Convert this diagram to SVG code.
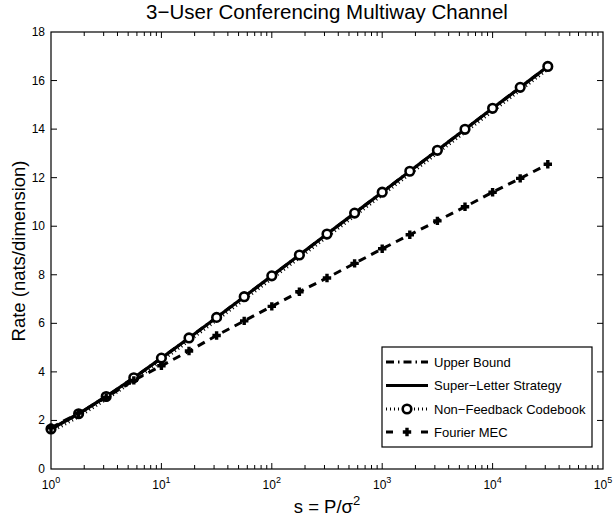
<svg xmlns="http://www.w3.org/2000/svg" width="616" height="520" viewBox="0 0 616 520">
  <style>
    text { font-family: "Liberation Sans", Arial, Helvetica, sans-serif; fill: #000; }
    .tick { font-size: 12px; }
    .sup { font-size: 9px; }
    .label { font-size: 18.5px; }
    .title { font-size: 20.5px; }
    .leg { font-size: 13px; }
    .axis { fill: none; stroke: #000; stroke-width: 1.2; }
    .tk { fill: none; stroke: #000; stroke-width: 1; }
    .ub { fill: none; stroke: #000; stroke-width: 3; stroke-dasharray: 8 4 1.5 4; }
    .sl { fill: none; stroke: #000; stroke-width: 3.2; stroke-linejoin: round; }
    .nf { fill: none; stroke: #000; stroke-width: 3; stroke-dasharray: 1 3; }
    .fm { fill: none; stroke: #000; stroke-width: 3; stroke-dasharray: 8 6; }
    .mo { fill: #fff; stroke: #000; stroke-width: 2.6; }
    .mp { fill: none; stroke: #000; stroke-width: 3.4; }
  </style>
  <defs>
    <circle id="mk-circle" r="4.3" class="mo"/>
    <path id="mk-plus" d="M-4.2,0h8.4M0,-4.2v8.4" class="mp"/>
  </defs>

  <rect width="616" height="520" fill="#fff"/>

  <text class="title" x="327" y="19" text-anchor="middle">3−User Conferencing Multiway Channel</text>

  <!-- axes frame, ticks and tick labels -->
  <g id="axes">
    <rect class="axis" x="51" y="32" width="552" height="437"/>
    <!-- y major ticks, left and right -->
    <path class="tk" d="M51,420.44h6M51,371.89h6M51,323.33h6M51,274.78h6M51,226.22h6M51,177.67h6M51,129.11h6M51,80.56h6
                        M603,420.44h-6M603,371.89h-6M603,323.33h-6M603,274.78h-6M603,226.22h-6M603,177.67h-6M603,129.11h-6M603,80.56h-6"/>
    <!-- x decade ticks, bottom and top -->
    <path class="tk" d="M161.4,469v-6M271.8,469v-6M382.2,469v-6M492.6,469v-6M161.4,32v6M271.8,32v6M382.2,32v6M492.6,32v6"/>
    <!-- x minor ticks -->
    <path class="tk" d="M84.23,469v-4M103.67,469v-4M117.47,469v-4M128.17,469v-4M136.91,469v-4M144.3,469v-4M150.7,469v-4M156.35,469v-4
      M194.63,469v-4M214.07,469v-4M227.87,469v-4M238.57,469v-4M247.31,469v-4M254.7,469v-4M261.1,469v-4M266.75,469v-4
      M305.03,469v-4M324.47,469v-4M338.27,469v-4M348.97,469v-4M357.71,469v-4M365.1,469v-4M371.5,469v-4M377.15,469v-4
      M415.43,469v-4M434.87,469v-4M448.67,469v-4M459.37,469v-4M468.11,469v-4M475.5,469v-4M481.9,469v-4M487.55,469v-4
      M525.83,469v-4M545.27,469v-4M559.07,469v-4M569.77,469v-4M578.51,469v-4M585.9,469v-4M592.3,469v-4M597.95,469v-4
      M84.23,32v4M103.67,32v4M117.47,32v4M128.17,32v4M136.91,32v4M144.3,32v4M150.7,32v4M156.35,32v4
      M194.63,32v4M214.07,32v4M227.87,32v4M238.57,32v4M247.31,32v4M254.7,32v4M261.1,32v4M266.75,32v4
      M305.03,32v4M324.47,32v4M338.27,32v4M348.97,32v4M357.71,32v4M365.1,32v4M371.5,32v4M377.15,32v4
      M415.43,32v4M434.87,32v4M448.67,32v4M459.37,32v4M468.11,32v4M475.5,32v4M481.9,32v4M487.55,32v4
      M525.83,32v4M545.27,32v4M559.07,32v4M569.77,32v4M578.51,32v4M585.9,32v4M592.3,32v4M597.95,32v4"/>
    <!-- y tick labels -->
    <g class="tick" text-anchor="end">
      <text x="45" y="473">0</text>
      <text x="45" y="424.4">2</text>
      <text x="45" y="375.9">4</text>
      <text x="45" y="327.3">6</text>
      <text x="45" y="278.8">8</text>
      <text x="45" y="230.2">10</text>
      <text x="45" y="181.7">12</text>
      <text x="45" y="133.1">14</text>
      <text x="45" y="84.6">16</text>
      <text x="45" y="36">18</text>
    </g>
    <!-- x tick labels -->
    <g class="tick" text-anchor="middle">
      <text x="51" y="489">10<tspan class="sup" dy="-6">0</tspan></text>
      <text x="161.4" y="489">10<tspan class="sup" dy="-6">1</tspan></text>
      <text x="271.8" y="489">10<tspan class="sup" dy="-6">2</tspan></text>
      <text x="382.2" y="489">10<tspan class="sup" dy="-6">3</tspan></text>
      <text x="492.6" y="489">10<tspan class="sup" dy="-6">4</tspan></text>
      <text x="603" y="489">10<tspan class="sup" dy="-6">5</tspan></text>
    </g>
    <text class="label" x="327" y="513" text-anchor="middle">s = P/σ<tspan font-size="13px" dy="-8">2</tspan></text>
    <text class="label" transform="translate(25,251) rotate(-90)" text-anchor="middle">Rate (nats/dimension)</text>
  </g>

  <!-- data curves, drawn in legend order -->
  <g id="curves">
    <path id="upper-bound" class="ub" d="M51,428.99L78.6,413.77L106.2,396.48L133.8,377.76L161.4,358.12L189,337.92L216.6,317.41L244.2,296.7L271.8,275.87L299.4,254.99L327,234.06L354.6,213.11L382.2,192.18L409.8,171.23L437.4,150.28L465,129.3L492.6,108.33L520.2,87.37L547.8,66.42"/>
    <path id="super-letter" class="sl" d="M51,428.99L78.6,413.77L106.2,396.48L133.8,377.76L161.4,358.12L189,337.92L216.6,317.41L244.2,296.7L271.8,275.87L299.4,254.99L327,234.06L354.6,213.11L382.2,192.18L409.8,171.23L437.4,150.28L465,129.3L492.6,108.33L520.2,87.37L547.8,66.42"/>
    <path id="non-feedback" class="nf" d="M51,431.9L78.6,416.7L106.2,399.4L133.8,380.7L161.4,361L189,340.8L216.6,320.3L244.2,299.6L271.8,278.8L299.4,257.9L327,237L354.6,216L382.2,195.1L409.8,174.1L437.4,153.2L465,132.2L492.6,111.2L520.2,90.3L547.8,69.3"/>
    <g id="non-feedback-markers">
      <use href="#mk-circle" x="51" y="428.99"/><use href="#mk-circle" x="78.6" y="413.77"/><use href="#mk-circle" x="106.2" y="396.48"/>
      <use href="#mk-circle" x="133.8" y="377.76"/><use href="#mk-circle" x="161.4" y="358.12"/><use href="#mk-circle" x="189" y="337.92"/>
      <use href="#mk-circle" x="216.6" y="317.41"/><use href="#mk-circle" x="244.2" y="296.7"/><use href="#mk-circle" x="271.8" y="275.87"/>
      <use href="#mk-circle" x="299.4" y="254.99"/><use href="#mk-circle" x="327" y="234.06"/><use href="#mk-circle" x="354.6" y="213.11"/>
      <use href="#mk-circle" x="382.2" y="192.18"/><use href="#mk-circle" x="409.8" y="171.23"/><use href="#mk-circle" x="437.4" y="150.28"/>
      <use href="#mk-circle" x="465" y="129.3"/><use href="#mk-circle" x="492.6" y="108.33"/><use href="#mk-circle" x="520.2" y="87.37"/>
      <use href="#mk-circle" x="547.8" y="66.42"/>
    </g>
    <path id="fourier" class="fm" d="M51,427.73L78.6,413.16L106.2,397.38L133.8,380.39L161.4,365.82L189,351.01L216.6,335.47L244.2,320.9L271.8,306.34L299.4,291.77L327,277.93L354.6,263.37L382.2,248.8L409.8,234.72L437.4,220.88L465,206.8L492.6,192.23L520.2,178.39L547.8,164.31"/>
    <g id="fourier-markers">
      <use href="#mk-plus" x="51" y="427.73"/><use href="#mk-plus" x="78.6" y="413.16"/><use href="#mk-plus" x="106.2" y="397.38"/>
      <use href="#mk-plus" x="133.8" y="380.39"/><use href="#mk-plus" x="161.4" y="365.82"/><use href="#mk-plus" x="189" y="351.01"/>
      <use href="#mk-plus" x="216.6" y="335.47"/><use href="#mk-plus" x="244.2" y="320.9"/><use href="#mk-plus" x="271.8" y="306.34"/>
      <use href="#mk-plus" x="299.4" y="291.77"/><use href="#mk-plus" x="327" y="277.93"/><use href="#mk-plus" x="354.6" y="263.37"/>
      <use href="#mk-plus" x="382.2" y="248.8"/><use href="#mk-plus" x="409.8" y="234.72"/><use href="#mk-plus" x="437.4" y="220.88"/>
      <use href="#mk-plus" x="465" y="206.8"/><use href="#mk-plus" x="492.6" y="192.23"/><use href="#mk-plus" x="520.2" y="178.39"/>
      <use href="#mk-plus" x="547.8" y="164.31"/>
    </g>
  </g>

  <!-- legend -->
  <g id="legend">
    <rect x="382" y="347" width="210" height="100" fill="#fff" stroke="#000" stroke-width="1.2"/>
    <path class="ub" d="M386,362H428" stroke-dasharray="1.5 4 8 4"/>
    <path class="sl" d="M386,385.5H428"/>
    <path class="nf" d="M386,409H428"/>
    <use href="#mk-circle" x="407" y="409"/>
    <path class="fm" d="M386,432H393M421,432H428" stroke-dasharray="none"/>
    <use href="#mk-plus" x="407" y="432"/>
    <g class="leg">
      <text x="434" y="366.5">Upper Bound</text>
      <text x="434" y="390">Super−Letter Strategy</text>
      <text x="434" y="413.5">Non−Feedback Codebook</text>
      <text x="434" y="436.5">Fourier MEC</text>
    </g>
  </g>
</svg>
